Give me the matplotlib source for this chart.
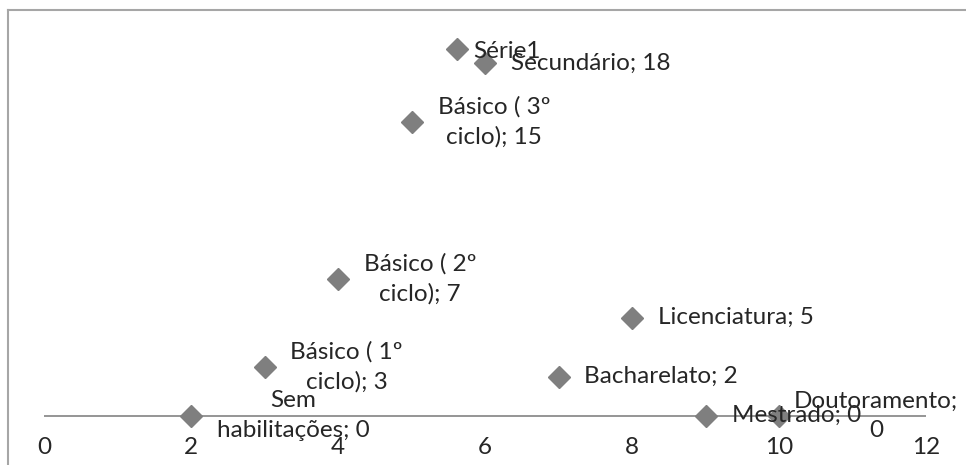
import matplotlib.pyplot as plt
from matplotlib.lines import Line2D

# dados
categorias = ['Sem\nhabilitações; 0', 'Básico ( 1º\nciclo); 3', 'Básico ( 2º\nciclo); 7',
              'Básico ( 3º\nciclo); 15', 'Secundário; 18', 'Bacharelato; 2',
              'Licenciatura; 5', 'Mestrado; 0', 'Doutoramento;\n0']
x_vals = [2, 3, 4, 5, 6, 7, 8, 9, 10]
y_vals = [0, 2.5, 7, 15, 18, 2, 5, 0, 0]
x_ticks = [0, 2, 4, 6, 8, 10, 12]

plt.rcParams['font.family'] = ['Lato', 'DejaVu Sans']
cor_txt = '#262626'
cor_mark = '#7f7f7f'

fig = plt.figure(figsize=(9.66, 4.65), dpi=100)
ax = fig.add_axes([44/966, 1 - 435.3/465, 882/966, 411.6/465])

ax.axhline(0, color='#8c8c8c', lw=1.3, zorder=1)
ax.plot(x_vals, y_vals, linestyle='none', marker='D', ms=11,
        color=cor_mark, label='Série1', zorder=3)

for i, txt in enumerate(categorias):
    dx = 15 if txt.startswith('Doutoramento') else 26
    ax.annotate(txt, (x_vals[i], y_vals[i]), xytext=(dx, 0), textcoords='offset pixels',
                ha='left', va='center', multialignment='center',
                fontsize=17.5, color=cor_txt, linespacing=1.5, zorder=4,
                annotation_clip=False)

ax.set_xlim(0, 12)
ax.set_ylim(-1, 20)
ax.set_xticks(x_ticks)
ax.set_yticks([])
ax.tick_params(axis='x', length=0, pad=1, labelsize=17.5, labelcolor=cor_txt)
for s in ax.spines.values():
    s.set_visible(False)
ax.patch.set_visible(False)

ax.legend(loc='center left', bbox_to_anchor=(445/966, 1 - 51/465),
          bbox_transform=fig.transFigure, frameon=False, fontsize=17.5,
          handlelength=1, handletextpad=0.15, borderpad=0, borderaxespad=0,
          labelcolor=cor_txt)

# moldura do gráfico (parcial)
fig.add_artist(Line2D([8/966, 8/966], [0, 1 - 10/465], color='#a6a6a6', lw=1.5,
                      transform=fig.transFigure))
fig.add_artist(Line2D([8/966, 1], [1 - 10/465, 1 - 10/465], color='#a6a6a6', lw=1.5,
                      transform=fig.transFigure))

plt.savefig('out.png', dpi=100)
